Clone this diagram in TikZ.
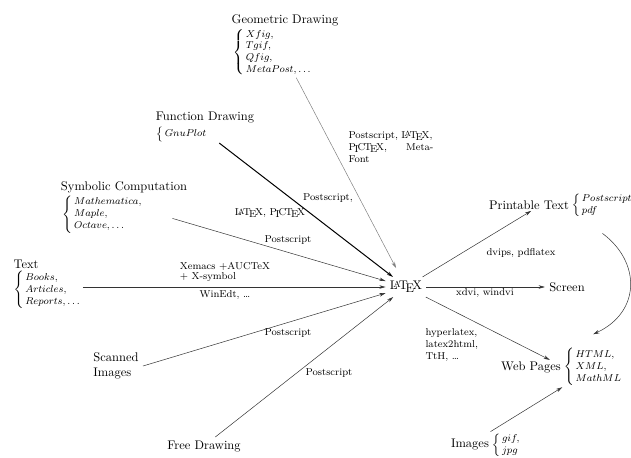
\documentclass[tikz,border=0pt]{standalone}
\usetikzlibrary{positioning,arrows.meta}
\newcommand{\PiCTeXlogo}{P\kern-.12em\lower.5ex\hbox{I}\kern-.075em C\kern-.11em\TeX}
\begin{document}
\begin{tikzpicture}[x=0.8pt,y=-0.8pt,
  flow/.style={draw=black!80,line width=0.4pt,-{Stealth[length=5pt,width=2.8pt]}},
  boldflow/.style={flow,draw=black,line width=0.8pt},
  greyflow/.style={flow,draw=black!50},
  lbl/.style={font=\footnotesize,inner sep=1pt},
  items/.style={font=\footnotesize,inner sep=1pt}]
\useasboundingbox (0,0) rectangle (631,457);
\node (ltx) at (406,287) {\LaTeX};
\node[inner sep=1pt] (gd) at (285,20) {Geometric Drawing};
\node[items,anchor=north west] (gdlist) at ([xshift=1pt]gd.south west)
  {$\left\{\begin{array}{@{\,}l@{}} Xfig,\\ Tgif,\\ Qfig,\\ MetaPost,\ldots \end{array}\right.$};
\node[inner sep=1pt] (fd) at (205,118) {Function Drawing};
\node[items,anchor=north west] (fdlist) at (fd.south west)
  {$\left\{\begin{array}{@{\,}l@{}} GnuPlot \end{array}\right.$};
\node[inner sep=1pt] (sc) at (124,187) {Symbolic Computation};
\node[items,anchor=north west] (sclist) at ([xshift=1pt]sc.south west)
  {$\left\{\begin{array}{@{\,}l@{}} Mathematica,\\ Maple,\\ Octave,\ldots \end{array}\right.$};
\node[inner sep=1pt] (txt) at (26,264) {Text};
\node[items,anchor=north west] (txtlist) at (txt.south west)
  {$\left\{\begin{array}{@{\,}l@{}} Books,\\ Articles,\\ Reports,\ldots \end{array}\right.$};
\node[align=left] (scan) at (116,366) {Scanned\\Images};
\node (free) at (204,447) {Free Drawing};
\node[inner sep=1pt] (print) at (529,205) {Printable Text};
\node[items,right=0pt of print] (printlist)
  {$\left\{\begin{array}{@{\,}l@{}} Postscript\\ pdf \end{array}\right.$};
\node (screen) at (567,287) {Screen};
\node[inner sep=1pt] (web) at (531,367) {Web Pages};
\node[items,right=0pt of web] (weblist)
  {$\left\{\begin{array}{@{\,}l@{}} HTML,\\ XML,\\ MathML \end{array}\right.$};
\node[inner sep=1pt] (img) at (470,445) {Images};
\node[items,right=0pt of img] (imglist)
  {$\left\{\begin{array}{@{\,}l@{}} gif,\\ jpg \end{array}\right.$};

\draw[greyflow,shorten >=8pt] ([xshift=-14pt]gdlist.south east) -- (ltx);
\draw[boldflow] ([xshift=8pt]fdlist.south east) -- (ltx);
\draw[flow] ([shift={(28,4)}]sclist.east) -- (ltx);
\draw[flow] (txtlist.east |- ltx) -- (ltx);
\draw[flow] (scan.east) -- (ltx);
\draw[flow] ([xshift=9pt]free.north) -- (ltx);
\draw[flow] (ltx) -- (print.-70);
\draw[flow] (ltx) -- (screen);
\draw[flow] (ltx) -- ([xshift=-10pt]web.north east);
\draw[flow] (imglist.north west) -- (weblist.south west);
\draw[flow] ([yshift=-12pt]printlist.south) .. controls (641,262) and (641,312) .. ([yshift=10pt]weblist.north);

\node[lbl,anchor=north west,text width=68pt,align=left] (lgd) at (347,130)
  {Postscript, \LaTeX,\\ \PiCTeXlogo,\hfill Meta-\\ Font};
\node[lbl] (lfd1) at (328,198) {Postscript,};
\node[lbl] (lfd2) at (270,213) {\LaTeX, \PiCTeXlogo};
\node[lbl] (lsc) at (288,240) {Postscript};
\node[lbl,align=left] (ltxt1) at (225,272) {Xemacs +AUCTeX\\[-2pt] + X-symbol};
\node[lbl] (ltxt2) at (225,295) {WinEdt, \ldots};
\node[lbl] (lscan) at (288,333) {Postscript};
\node[lbl] (lfree) at (329,373) {Postscript};
\node[lbl] (lprint) at (521,253) {dvips, pdflatex};
\node[lbl] (lscreen) at (485,293) {xdvi, windvi};
\node[lbl,anchor=north west,align=left] (lweb) at (424,327)
  {hyperlatex,\\ latex2html,\\ TtH, \ldots};
\end{tikzpicture}
\end{document}
